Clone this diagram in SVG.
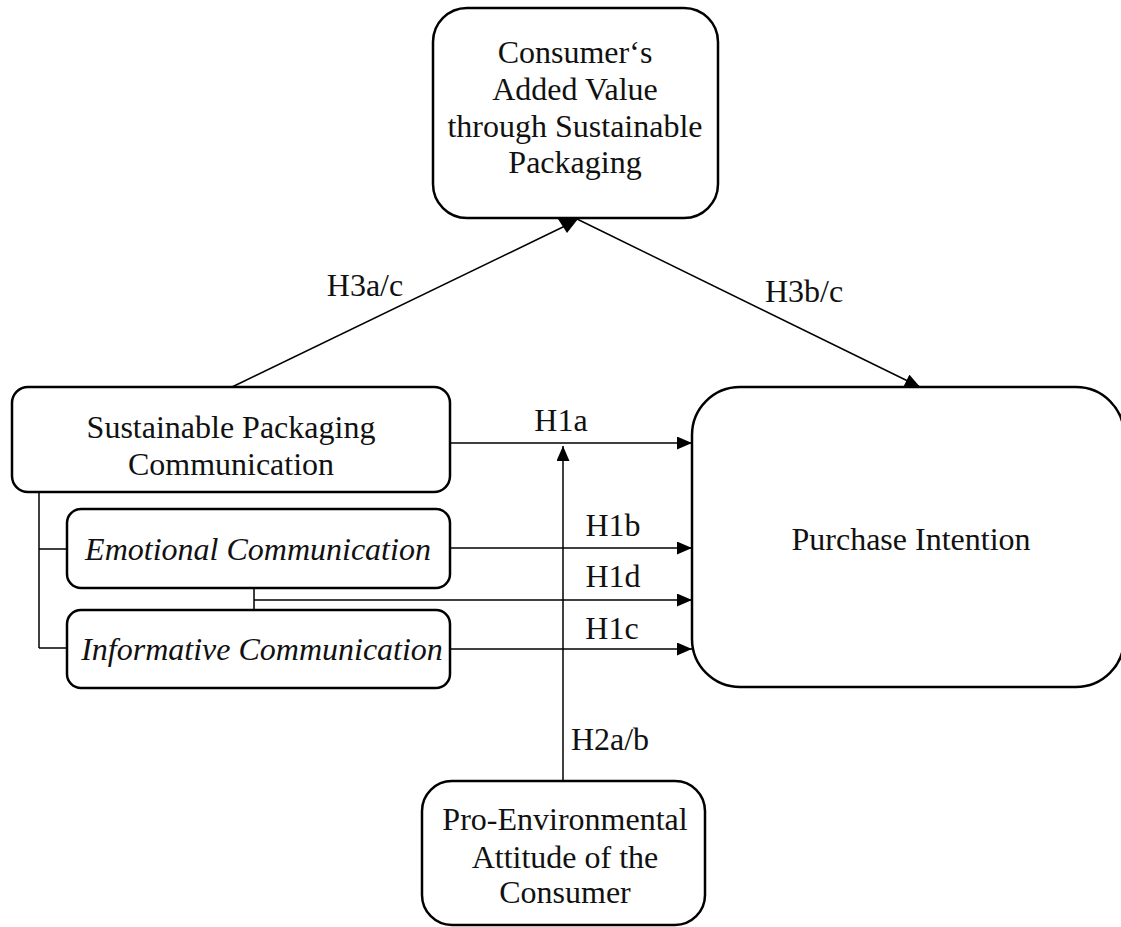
<svg xmlns="http://www.w3.org/2000/svg" width="1121" height="927" viewBox="0 0 1121 927">
<style>
.box{fill:#fff;stroke:#000;stroke-width:2.5}
.ln{fill:none;stroke:#000;stroke-width:1.5}
text{font-family:"Liberation Serif","Times New Roman",serif;font-size:32px;fill:#111}
.c{text-anchor:middle}
.i{font-style:italic}
</style>
<defs>
<marker id="ah" markerUnits="userSpaceOnUse" markerWidth="16" markerHeight="14" refX="15" refY="6.5" orient="auto">
<path d="M0,0 L15,6.5 L0,13 z" fill="#000"/>
</marker>
</defs>
<rect width="1121" height="927" fill="#fff"/>
<g id="connectors">
<line class="ln" x1="232" y1="387" x2="565" y2="226"/>
<polygon points="558,219 578,219 567,233" fill="#000"/>
<line class="ln" x1="577" y1="219" x2="920" y2="387" marker-end="url(#ah)"/>
<line class="ln" x1="450" y1="443" x2="692" y2="443" marker-end="url(#ah)"/>
<line class="ln" x1="450" y1="548" x2="692" y2="548" marker-end="url(#ah)"/>
<path class="ln" d="M254,588 V610 M254,600 H692" marker-end="url(#ah)"/>
<line class="ln" x1="450" y1="649" x2="692" y2="649" marker-end="url(#ah)"/>
<line class="ln" x1="563" y1="781" x2="563" y2="446" marker-end="url(#ah)"/>
<path class="ln" d="M39,492 V648 M39,549 H67 M39,648 H67"/>
<text x="365" y="296" class="c">H3a/c</text>
<text x="804" y="302" class="c">H3b/c</text>
<text x="561" y="431" class="c">H1a</text>
<text x="613" y="536" class="c">H1b</text>
<text x="613" y="587" class="c">H1d</text>
<text x="612" y="639" class="c">H1c</text>
<text x="610" y="750" class="c">H2a/b</text>
</g>
<g id="added-value">
<rect class="box" x="433" y="8" width="285" height="210" rx="34"/>
<text x="575" y="63" class="c">Consumer‘s</text>
<text x="575" y="100" class="c">Added Value</text>
<text x="575" y="137" class="c">through Sustainable</text>
<text x="575" y="173" class="c">Packaging</text>
</g>
<g id="sp-communication">
<rect class="box" x="12" y="387" width="438" height="105" rx="16"/>
<text x="231" y="438" class="c">Sustainable Packaging</text>
<text x="231" y="475" class="c">Communication</text>
</g>
<g id="emotional">
<rect class="box" x="67" y="509" width="383" height="79" rx="14"/>
<text x="258" y="560" class="c i">Emotional Communication</text>
</g>
<g id="informative">
<rect class="box" x="67" y="610" width="383" height="78" rx="14"/>
<text x="262" y="660" class="c i">Informative Communication</text>
</g>
<g id="purchase-intention">
<rect class="box" x="692" y="387" width="432" height="300" rx="48"/>
<text x="911" y="550" class="c">Purchase Intention</text>
</g>
<g id="pro-environmental">
<rect class="box" x="422" y="781" width="283" height="144" rx="30"/>
<text x="565" y="830" class="c">Pro-Environmental</text>
<text x="565" y="868" class="c">Attitude of the</text>
<text x="565" y="903" class="c">Consumer</text>
</g>
</svg>
